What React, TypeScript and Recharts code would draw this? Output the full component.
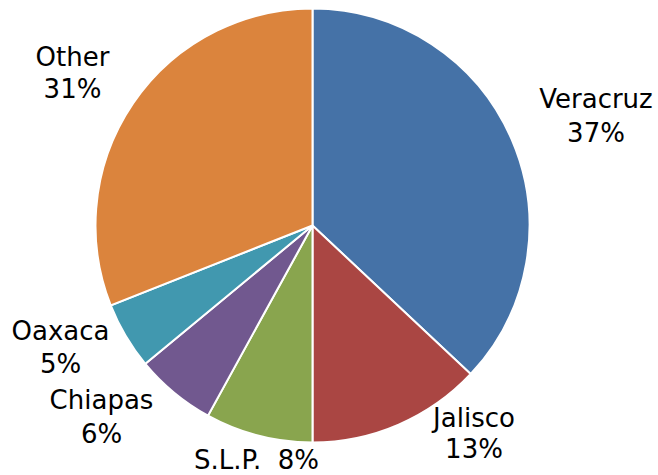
import React from "react";
import { PieChart, Pie, Cell } from "recharts";

const states = ["Veracruz", "Jalisco", "S.L.P.", "Chiapas", "Oaxaca", "Other"];
const shares = [37, 13, 8, 6, 5, 31];
const colors = ["#4572A7", "#AA4643", "#89A54E", "#71588F", "#4198AF", "#DB843D"];
// label placement (offset of text baseline from pie centre); single-line labels have one row
const labelRows: number[][] = [
  [-117.5, -83.5],
  [201.5, 232.5],
  [243.5],
  [183.5, 217.5],
  [114.5, 147.5],
  [-159.5, -127.5],
];
const labelDx = [283.5, 161.5, -56, -211, -252, -240];

const data = states.map((name, i) => ({ name, value: shares[i] }));

const FONT = "'DejaVu Sans', Verdana, sans-serif";

const renderLabel = (props: any) => {
  const { cx, cy, index } = props;
  const rows = labelRows[index];
  const x = cx + labelDx[index];
  const name = states[index];
  const pct = `${shares[index]}%`;
  const common = {
    x,
    textAnchor: "middle" as const,
    fill: "#000",
    fontFamily: FONT,
    fontSize: 26,
  };
  if (rows.length === 1) {
    return (
      <text key={`l${index}`} {...common} y={cy + rows[0]} style={{ whiteSpace: "pre" }}>
        {`${name}  ${pct}`}
      </text>
    );
  }
  return (
    <g key={`l${index}`}>
      <text {...common} y={cy + rows[0]}>{name}</text>
      <text {...common} y={cy + rows[1]}>{pct}</text>
    </g>
  );
};

export default function App() {
  return (
    <div style={{ position: "absolute", left: 0, top: 0, background: "#fff" }}>
      <PieChart width={658} height={475} margin={{ top: 0, right: 0, bottom: 0, left: 0 }}>
        <Pie
          data={data}
          dataKey="value"
          nameKey="name"
          cx={312.5}
          cy={225.5}
          outerRadius={217}
          startAngle={90}
          endAngle={-270}
          stroke="#ffffff"
          strokeWidth={2}
          label={renderLabel}
          labelLine={false}
          isAnimationActive={false}
        >
          {data.map((d, i) => (
            <Cell key={d.name} fill={colors[i]} />
          ))}
        </Pie>
      </PieChart>
    </div>
  );
}
